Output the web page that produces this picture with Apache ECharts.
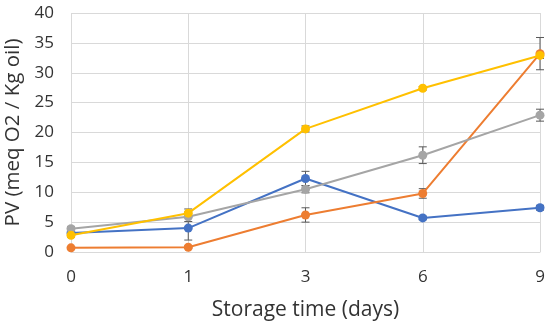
<!DOCTYPE html>
<html><head><meta charset="utf-8">
<script src="https://cdn.jsdelivr.net/npm/echarts@6/dist/echarts.min.js"></script>
<style>html,body{margin:0;padding:0;background:#fff}#c{width:550px;height:328px}</style>
</head><body><div id="c"></div>
<script>
const categories = ['0','1','3','6','9'];
const blue   = [3.2, 4.0, 12.3, 5.7, 7.4];
const orange = [0.7, 0.8, 6.2, 9.8, 33.2];
const gray   = [3.9, 5.9, 10.5, 16.2, 22.9];
const yellow = [2.8, 6.5, 20.6, 27.4, 32.9];
const blueErr   = [0.3, 2.0, 1.2, 0.3, 0.4];
const orangeErr = [0.2, 0.2, 1.2, 0.8, 2.7];
const grayErr   = [0.3, 0.8, 0.6, 1.4, 1.0];
const yellowErr = [0.3, 0.7, 0.5, 0.3, 0.5];
const yTicks = [0,5,10,15,20,25,30,35,40];

const colors = ['#4472C4','#ED7D31','#A5A5A5','#FFC000'];
const seriesData = [blue, orange, gray, yellow];
const errData = [blueErr, orangeErr, grayErr, yellowErr];
const font = 'Open Sans, Liberation Sans, sans-serif';

function errSeries(vals, errs) {
  return {
    type: 'custom', z: 1,
    data: vals.map((v,i)=>[i, v - errs[i], v + errs[i]]),
    renderItem: function(params, api) {
      const lo = api.coord([api.value(0), api.value(1)]);
      const hi = api.coord([api.value(0), api.value(2)]);
      const w = 4;
      const st = {stroke:'#595959', lineWidth:1};
      return {type:'group', children:[
        {type:'line', shape:{x1:lo[0],y1:lo[1],x2:hi[0],y2:hi[1]}, style:st},
        {type:'line', shape:{x1:lo[0]-w,y1:lo[1],x2:lo[0]+w,y2:lo[1]}, style:st},
        {type:'line', shape:{x1:hi[0]-w,y1:hi[1],x2:hi[0]+w,y2:hi[1]}, style:st}
      ]};
    }
  };
}

const series = [];
seriesData.forEach((d,i)=>{
  series.push({
    type:'line', data:d, z: 2+i,
    symbol:'circle', symbolSize:9,
    lineStyle:{color:colors[i], width:2},
    itemStyle:{color:colors[i]},
    animation:false
  });
});
errData.forEach((e,i)=>series.push(errSeries(seriesData[i], e)));

const chart = echarts.init(document.getElementById('c'));
chart.setOption({
  animation:false,
  grid:{left:71, right:10, top:13, bottom:76, containLabel:false, outerBoundsMode:'none'},
  xAxis:{
    type:'category', data:categories, boundaryGap:false,
    name:'Storage time (days)', nameLocation:'middle', nameGap:48,
    nameTextStyle:{fontSize:21, color:'#333333', fontFamily:font},
    axisLine:{show:true, lineStyle:{color:'#d9d9d9'}},
    axisTick:{show:false},
    axisLabel:{fontSize:17, color:'#333333', fontFamily:font, margin:17},
    splitLine:{show:true, lineStyle:{color:'#d9d9d9', width:1}}
  },
  yAxis:{
    type:'value', min:yTicks[0], max:yTicks[yTicks.length-1], interval:5,
    name:'PV (meq O2 / Kg oil)', nameLocation:'middle', nameGap:40,
    nameTextStyle:{fontSize:20.5, color:'#333333', fontFamily:font},
    axisLine:{show:false}, axisTick:{show:false},
    axisLabel:{fontSize:17, color:'#333333', fontFamily:font, margin:17},
    splitLine:{show:true, lineStyle:{color:'#d9d9d9', width:1}}
  },
  series: series
});
</script></body></html>
